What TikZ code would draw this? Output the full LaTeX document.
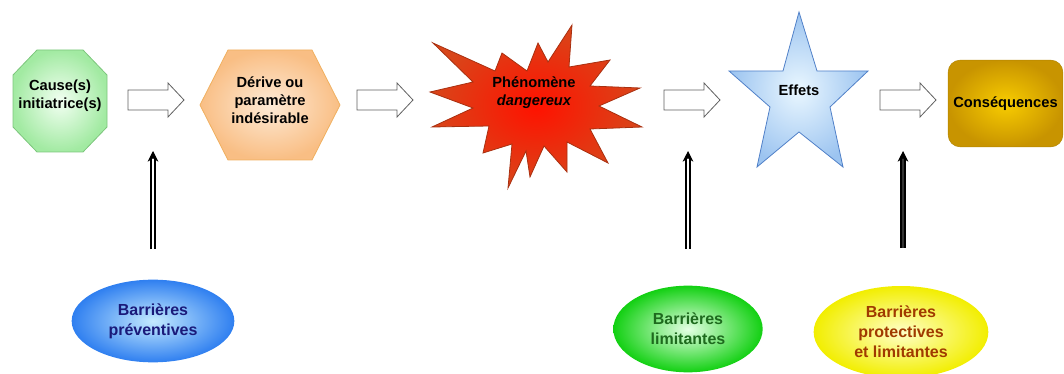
\documentclass[tikz,border=0pt]{standalone}
\usepackage{fontspec}
\setmainfont{Liberation Sans}
\usetikzlibrary{shapes.geometric,arrows.meta}
\definecolor{grnIn}{HTML}{F2FFF2}
\definecolor{grnOut}{HTML}{A2EAA2}
\definecolor{grnDraw}{HTML}{7CC67C}
\definecolor{orIn}{HTML}{FDEAD6}
\definecolor{orOut}{HTML}{F9BE84}
\definecolor{orDraw}{HTML}{F0B060}
\definecolor{redIn}{HTML}{FF1200}
\definecolor{redOut}{HTML}{D8461A}
\definecolor{redDraw}{HTML}{A83010}
\definecolor{bluIn}{HTML}{EAF7FF}
\definecolor{bluOut}{HTML}{9CC4F0}
\definecolor{bluDraw}{HTML}{5080C8}
\definecolor{goldIn}{HTML}{F8CC00}
\definecolor{goldOut}{HTML}{C89400}
\definecolor{ellBIn}{HTML}{C4EAFF}
\definecolor{ellBOut}{HTML}{2F7FF0}
\definecolor{ellGIn}{HTML}{E4FFE4}
\definecolor{ellGOut}{HTML}{12D012}
\definecolor{ellYIn}{HTML}{FFFFC8}
\definecolor{ellYOut}{HTML}{F2EE00}
\definecolor{txtNavy}{HTML}{1A1A7A}
\definecolor{txtGreen}{HTML}{1E6A1E}
\definecolor{txtBrown}{HTML}{A03A00}
\definecolor{arrGray}{HTML}{606060}
\newcommand\myblockarrow[3]{%
  \draw[blockarr] (#1,#3-10) -- (#2-16,#3-10) -- (#2-16,#3-17) -- (#2,#3)
    -- (#2-16,#3+17) -- (#2-16,#3+10) -- (#1,#3+10) -- cycle;}
\begin{document}
\begin{tikzpicture}[x=0.75pt,y=-0.75pt,
  font=\fontsize{11}{13.5}\selectfont\bfseries,
  lbl/.style={align=center, inner sep=0pt},
  blockarr/.style={draw=arrGray, fill=white, line width=0.6pt},
  barrier/.style={ellipse, inner sep=0pt, align=center, shade, shading=radial,
    font=\fontsize{12}{15}\selectfont\bfseries},
  uparr/.style={double=white, double distance=2.2pt, line width=0.8pt,
    -{Stealth[length=8pt,width=8pt,inset=2.5pt]}}]
\useasboundingbox (0,0) rectangle (1064,374);

% Cause(s) octagon
\path[shade, inner color=grnIn, outer color=grnOut, draw=grnDraw, line width=0.6pt]
  (37,50) -- (83,50) -- (107,75) -- (107,127) -- (83,152) -- (37,152) -- (13,127) -- (13,75) -- cycle;
\node[lbl] (cause) at (60,96) {Cause(s)\\initiatrice(s)};

% Derive hexagon
\path[shade, inner color=orIn, outer color=orOut, draw=orDraw, line width=0.6pt]
  (228,50) -- (312,50) -- (340,105) -- (312,160) -- (228,160) -- (200,105) -- cycle;
\node[lbl] (derive) at (270,100) {Dérive ou\\paramètre\\indésirable};

% Phenomene starburst
\path[shade, inner color=redIn, outer color=redOut, draw=redDraw, line width=0.6pt]
  (433,43) -- (495,71) -- (502,53) -- (527,71) -- (538,43) -- (548,62) -- (572,25)
  -- (569,67) -- (610,60) -- (590,86) -- (640,88) -- (599,106) -- (642,127)
  -- (590,129) -- (608,163) -- (567,142) -- (567,172) -- (544,146) -- (530,177)
  -- (526,151) -- (508,188) -- (512,144) -- (483,153) -- (489,126) -- (432,127)
  -- (473,108) -- (430,92) -- (473,82) -- cycle;
\node[lbl] (phen) at (534,93) {Phénomène\\\itshape dangereux};

% Effets star
\path[shade, inner color=bluIn, outer color=bluOut, draw=bluDraw, line width=0.6pt]
  (799,12) -- (817,71) -- (868,71) -- (830,107) -- (843,167) -- (799,132)
  -- (757,167) -- (770,107) -- (729,71) -- (783,71) -- cycle;
\node[lbl] (effets) at (799,90) {Effets};

% Consequences
\node[shade, inner color=goldIn, outer color=goldOut, draw=goldOut!90!black,
  line width=0.4pt, rounded corners=9pt, minimum width=86pt, minimum height=65pt,
  inner sep=0pt] (cons) at (1005.5,103.5) {Conséquences};

% block arrows
\myblockarrow{128}{184}{100}
\myblockarrow{357}{413}{100}
\myblockarrow{664}{720}{100}
\myblockarrow{880}{936}{100}

% barriers
\node[barrier, inner color=ellBIn, outer color=ellBOut, minimum width=122pt,
  minimum height=62pt, text=txtNavy] (prev) at (153,321) {Barrières\\préventives};
\node[barrier, inner color=ellGIn, outer color=ellGOut, minimum width=112pt,
  minimum height=65pt, text=txtGreen] (limit) at (688,329) {Barrières\\limitantes};
\node[barrier, inner color=ellYIn, outer color=ellYOut, minimum width=131pt,
  minimum height=69pt, text=txtBrown] (protect) at (901,332) {Barrières\\protectives\\et limitantes};

% vertical arrows
\coordinate (p1) at (153,249); \coordinate (q1) at (153,151);
\coordinate (p2) at (688,249); \coordinate (q2) at (688,151);
\coordinate (p3) at (903,248); \coordinate (q3) at (903,151);
\draw[uparr] (p1) -- (q1);
\draw[uparr] (p2) -- (q2);
\draw[uparr, double=gray!40!black] (p3) -- (q3);
\end{tikzpicture}
\end{document}
